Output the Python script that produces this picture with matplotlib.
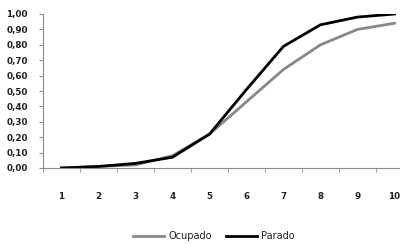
import matplotlib
matplotlib.use("Agg")
import matplotlib.pyplot as plt
from matplotlib.ticker import FuncFormatter

categories = [1, 2, 3, 4, 5, 6, 7, 8, 9, 10]
ocupado = [0.00, 0.01, 0.02, 0.08, 0.22, 0.43, 0.64, 0.80, 0.90, 0.94]
parado = [0.00, 0.01, 0.03, 0.07, 0.22, 0.51, 0.79, 0.93, 0.98, 1.00]

fig = plt.figure(figsize=(4.0, 2.44), dpi=100)
W, H = 400, 244
ax = fig.add_axes([43 / W, 1 - 168 / H, 370 / W, 154 / H])

ax.plot(categories, ocupado, color="#888888", lw=2.0, label="Ocupado", solid_joinstyle="round")
ax.plot(categories, parado, color="#000000", lw=2.0, label="Parado", solid_joinstyle="round")

ax.set_xlim(0.5, 10.5)
ax.set_ylim(0, 1.0)
ax.set_yticks([i / 10 for i in range(11)])
ax.yaxis.set_major_formatter(FuncFormatter(lambda v, p: f"{v:.2f}".replace(".", ",")))
ax.set_xticks(categories)
ax.set_xticks([c + 0.5 for c in [0] + categories], minor=True)

for s in ["top", "right"]:
    ax.spines[s].set_visible(False)
for s in ["left", "bottom"]:
    ax.spines[s].set_color("#8c8c8c")
    ax.spines[s].set_linewidth(0.8)

ax.tick_params(axis="y", which="major", length=3, color="#8c8c8c", labelsize=6.3, labelcolor="#222222", pad=8)
ax.tick_params(axis="x", which="major", length=0, labelsize=6.3, labelcolor="#222222", pad=17)
ax.tick_params(axis="x", which="minor", length=3, color="#8c8c8c")
for lab in ax.get_xticklabels() + ax.get_yticklabels():
    lab.set_fontweight("bold")

fig.legend(loc="center", bbox_to_anchor=(214 / W, 1 - 236 / H), ncol=2, frameon=False,
           fontsize=7, handlelength=3.2, handletextpad=0.4, columnspacing=1.5,
           labelcolor="#222222")

fig.savefig("out.png", dpi=100)
